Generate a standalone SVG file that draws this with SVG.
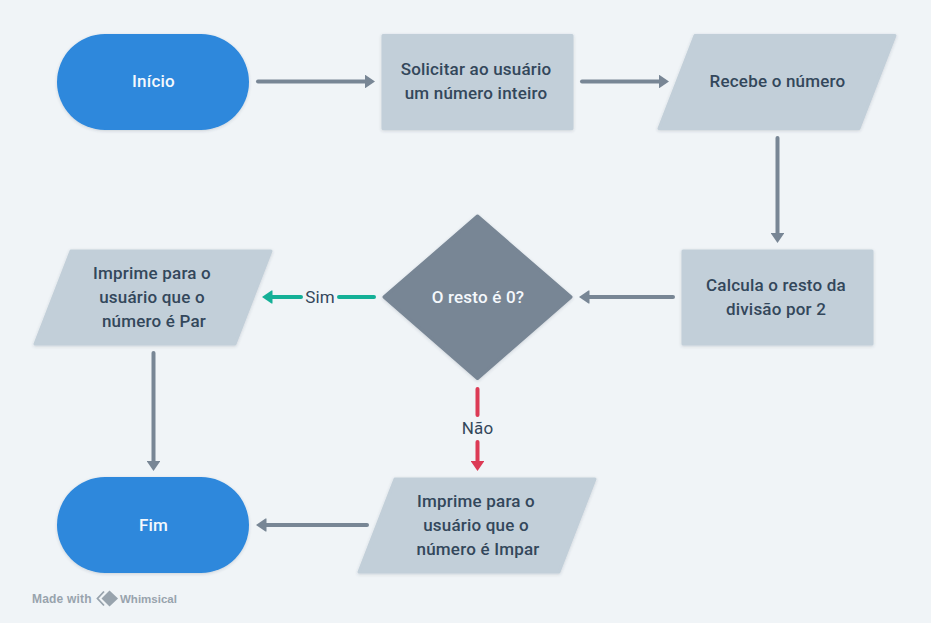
<svg xmlns="http://www.w3.org/2000/svg" width="931" height="623" viewBox="0 0 931 623">
<style>
text{font-family:Roboto,"Liberation Sans",sans-serif;font-size:17px;font-weight:500;letter-spacing:.2px;text-anchor:middle;fill:#33475b}
.w{fill:#f4f8fc}
.lab{font-weight:400;fill:#33475b}
.term{fill:#2d88dc;filter:url(#s)}
.box{fill:#c2cfd9;stroke:#c2cfd9;stroke-width:3;stroke-linejoin:round;filter:url(#s)}
.dec{fill:#788695;stroke:#788695;stroke-width:3;stroke-linejoin:round;filter:url(#s)}
.c{fill:none;stroke-width:4;stroke-linecap:round}
.g{stroke:#788695}.t{stroke:#14b097}.r{stroke:#dc3a55}
.brand{font-family:"Liberation Sans",sans-serif;font-size:12px;font-weight:700;letter-spacing:.2px;fill:#98a3ad;text-anchor:start}
</style>
<defs>
<filter id="s" x="-10%" y="-10%" width="120%" height="120%"><feDropShadow dx="0" dy="1" stdDeviation="1.5" flood-color="#33475b" flood-opacity=".2"/></filter>
<marker id="ag" markerUnits="userSpaceOnUse" markerWidth="12" markerHeight="16" refX="1" refY="8" orient="auto"><path d="M0 1.500L1 1.500L10.500 8L1 14.500L0 14.500Z" fill="#788695"/></marker>
<marker id="at" markerUnits="userSpaceOnUse" markerWidth="12" markerHeight="16" refX="1" refY="8" orient="auto"><path d="M0 1.500L1 1.500L10.500 8L1 14.500L0 14.500Z" fill="#14b097"/></marker>
<marker id="ar" markerUnits="userSpaceOnUse" markerWidth="12" markerHeight="16" refX="1" refY="8" orient="auto"><path d="M0 1.500L1 1.500L10.500 8L1 14.500L0 14.500Z" fill="#dc3a55"/></marker>
</defs>
<rect width="931" height="623" fill="#f0f4f7"/>
<g id="connectors">
<path class="c g" d="M258 81.500H365.500" marker-end="url(#ag)"/>
<path class="c g" d="M582 81.500H659.500" marker-end="url(#ag)"/>
<path class="c g" d="M777.500 138V233.500" marker-end="url(#ag)"/>
<path class="c g" d="M673 297H588.500" marker-end="url(#ag)"/>
<path class="c t" d="M374 297H339M301 297H271.500" marker-end="url(#at)"/>
<path class="c r" d="M477.500 389V415M477.500 442V461.500" marker-end="url(#ar)"/>
<path class="c g" d="M153.500 353V461.500" marker-end="url(#ag)"/>
<path class="c g" d="M367 525H265.500" marker-end="url(#ag)"/>
<text class="lab" x="320" y="303">Sim</text>
<text class="lab" x="477.500" y="434">Não</text>
</g>
<g id="inicio"><rect class="term" x="57" y="34" width="192" height="96" rx="48"/><text class="w" x="153.500" y="87">Início</text></g>
<g id="solicitar"><rect class="box" x="383" y="35.500" width="189" height="93"/><text x="476" y="75">Solicitar ao usuário</text><text x="476" y="99">um número inteiro</text></g>
<g id="recebe"><path class="box" d="M695 35.500H895L859 128.500H659Z"/><text x="777.500" y="87">Recebe o número</text></g>
<g id="calcula"><rect class="box" x="683" y="251" width="189" height="93"/><text x="776" y="291">Calcula o resto da</text><text x="776" y="315">divisão por 2</text></g>
<g id="decisao"><path class="dec" d="M477.500 216L571 297L477.500 378.500L384 297Z"/><text class="w" x="478" y="303">O resto é 0?</text></g>
<g id="par"><path class="box" d="M71 251H271L235 344H35Z"/><text x="152" y="279">Imprime para o</text><text x="152" y="303">usuário que o</text><text x="154" y="327">número é Par</text></g>
<g id="impar"><path class="box" d="M395 479H595L559 572H359Z"/><text x="476" y="507">Imprime para o</text><text x="476" y="531">usuário que o</text><text x="478" y="555">número é Impar</text></g>
<g id="fim"><rect class="term" x="57" y="477" width="192" height="96" rx="48"/><text class="w" x="153.500" y="531">Fim</text></g>
<g id="brand">
<text class="brand" x="32" y="603">Made with</text>
<path d="M104 591.500L97.500 598.500L104 605.500" fill="none" stroke="#98a3ad" stroke-width="1.800"/>
<path d="M109.500 590.500L118 598.500L109.500 606.500L101.500 598.500Z" fill="#98a3ad"/>
<text class="brand" x="120" y="603" style="font-size:11.500px;letter-spacing:0">Whimsical</text>
</g>
</svg>
